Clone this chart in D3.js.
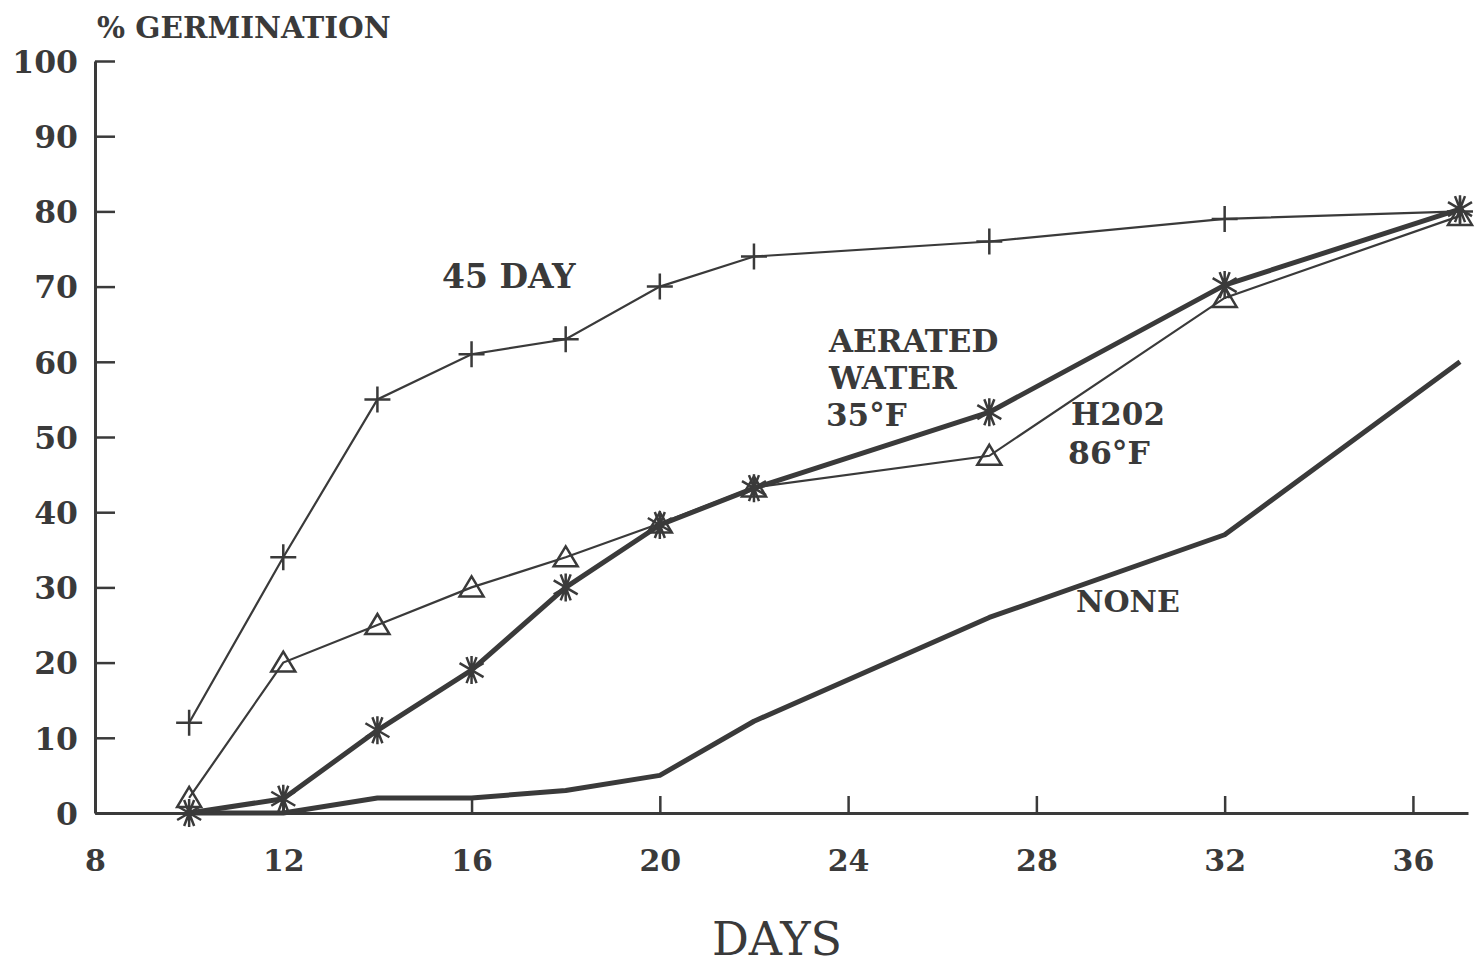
<!DOCTYPE html>
<html><head><meta charset="utf-8">
<script src="https://cdn.jsdelivr.net/npm/d3@7"></script>
<style>
body{margin:0;background:#fff;}
svg{display:block;}
</style></head>
<body>
<svg id="c" width="1480" height="965"></svg>
<script>
const days = [10, 12, 14, 16, 18, 20, 22, 27, 32, 37];
const day45 = [12, 34, 55, 61, 63, 70, 74, 76, 79, 80];
const h2o2 = [2, 20, 25, 30, 34, 38.5, 43.3, 47.5, 68.5, 79.4];
const aerated = [0, 1.9, 11, 19, 30, 38.3, 43.2, 53.3, 70.2, 80.3];
const none = [0, 0, 2, 2, 3, 5, 12.2, 26, 37, 60];
const xTicks = [8, 12, 16, 20, 24, 28, 32, 36];
const yTicks = [0, 10, 20, 30, 40, 50, 60, 70, 80, 90, 100];

const ink = "#3a3a3a";
const svg = d3.select("#c");
const x = d3.scaleLinear().domain([8, 37.17]).range([95, 1468]);
const y = d3.scaleLinear().domain([0, 100]).range([813, 61]);

// axes
const xAxis = d3.axisBottom(x).tickValues(xTicks).tickSizeInner(-17).tickSizeOuter(0).tickPadding(37);
const gx = svg.append("g").attr("transform", `translate(0,${y(0)})`).call(xAxis);
const yAxis = d3.axisLeft(y).tickValues(yTicks).tickSizeInner(-20).tickSizeOuter(0).tickPadding(17);
const gy = svg.append("g").attr("transform", `translate(${x(8)},0)`).call(yAxis);
[gx, gy].forEach(g => {
  g.select(".domain").attr("stroke", ink).attr("stroke-width", 3);
  g.selectAll(".tick line").attr("stroke", ink).attr("stroke-width", 2.5);
  g.selectAll(".tick text").attr("fill", ink)
    .style("font-family", "'DejaVu Serif'").style("font-weight", "bold");
});
gx.selectAll(".tick text").style("font-size", "30px");
gy.selectAll(".tick text").style("font-size", "31.5px").attr("dy", "0.36em");

function series(vals) { return days.map((d, i) => [d, vals[i]]); }
const line = d3.line().x(d => x(d[0])).y(d => y(d[1]));

// lines
svg.append("path").datum(series(none)).attr("d", line).attr("fill", "none")
  .attr("stroke", ink).attr("stroke-width", 5).attr("stroke-linejoin", "round");
svg.append("path").datum(series(day45)).attr("d", line).attr("fill", "none")
  .attr("stroke", ink).attr("stroke-width", 2.2);
svg.append("path").datum(series(h2o2)).attr("d", line).attr("fill", "none")
  .attr("stroke", ink).attr("stroke-width", 2.2);
svg.append("path").datum(series(aerated)).attr("d", line).attr("fill", "none")
  .attr("stroke", ink).attr("stroke-width", 5).attr("stroke-linejoin", "round");

// markers
const plus = svg.append("g").selectAll("g").data(series(day45)).join("g")
  .attr("transform", d => `translate(${x(d[0])},${y(d[1])})`);
plus.append("path").attr("d", "M-13,0H13M0,-13V13").attr("stroke", ink).attr("stroke-width", 2.5);

svg.append("g").selectAll("path").data(series(h2o2)).join("path")
  .attr("transform", d => `translate(${x(d[0])},${y(d[1])})`)
  .attr("d", "M0,-11L12,9H-12Z").attr("fill", "none").attr("stroke", ink).attr("stroke-width", 2.5);

svg.append("g").selectAll("path").data(series(aerated)).join("path")
  .attr("transform", d => `translate(${x(d[0])},${y(d[1])})`)
  .attr("d", "M0,-14V14M-12,-7L12,7M-12,7L12,-7M-5,-13L5,13M5,-13L-5,13")
  .attr("stroke", ink).attr("stroke-width", 2.5).attr("fill", "none");

// texts
const bold = (t, tx, ty, size) => svg.append("text").attr("x", tx).attr("y", ty).text(t)
  .attr("fill", ink).style("font-family", "'DejaVu Serif'").style("font-weight", "bold")
  .style("font-size", size + "px");
bold("% GERMINATION", 97, 38, 29.5);
bold("45 DAY", 442, 288, 33);
bold("AERATED", 829, 352, 31);
bold("WATER", 829, 389, 31);
bold("35°F", 826, 426, 31);
bold("H202", 1071, 425, 31);
bold("86°F", 1068, 464, 31.5);
bold("NONE", 1076, 612, 30);
svg.append("text").attr("x", 777).attr("y", 955).attr("text-anchor", "middle").text("DAYS")
  .attr("fill", ink).style("font-family", "'DejaVu Serif'").style("font-size", "46px");
</script>
</body></html>
